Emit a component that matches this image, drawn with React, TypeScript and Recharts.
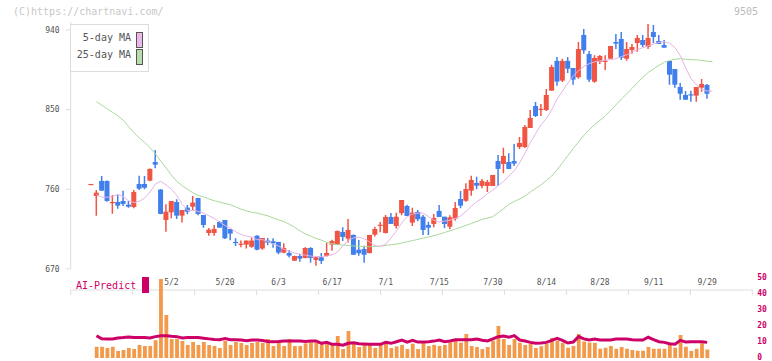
import React from 'react';
import { ComposedChart, Bar, Line, XAxis, YAxis } from 'recharts';

// ---- data ----
const opens = [765, 752.4, 769.4, 769.4, 745, 745.6, 746.8, 742.6, 740, 766,
  766, 769.7, 790.8, 759.6, 725.3, 734, 745.6, 730.2, 739.2, 740.3,
  750.2, 730.9, 710.6, 710.6, 723, 725.3, 715.1, 700.5, 698, 697.5,
  695, 707.5, 693, 702, 701.3, 700.5, 688.4, 688, 679.3, 684.6,
  682.4, 693.7, 680.1, 683.1, 684.6, 697.5, 697.5, 711.8, 704.2, 708.4,
  691.7, 692.5, 688, 708.7, 719.2, 710.6, 728.7, 718.5, 733, 741.1,
  722.3, 734.4, 729, 719.7, 720.8, 735.5, 729, 717.7, 726.8, 749,
  747, 758.4, 767.1, 763.7, 763.7, 763.7, 792, 788.6, 790.8, 792,
  807.8, 807.8, 829.3, 854.1, 850, 849.6, 871.4, 905.1, 882.8, 905.1,
  897.1, 886.6, 934.4, 912.9, 881.6, 904.2, 904.5, 907.6, 926.4, 929.8,
  907.6, 917.4, 925.3, 928.7, 920.8, 937.7, 927.6, 923.1, 905, 895.9,
  875.6, 866.6, 867.3, 865.8, 874.8, 877.9];

const highs = [766, 759.2, 775, 770, 753.6, 753.6, 758.2, 746.8, 759.2, 775.4,
  775, 783.5, 804.4, 760.3, 743, 746.8, 748.7, 736.6, 742.3, 752.4,
  750.2, 730.9, 716.3, 719.7, 724.2, 725.3, 715.1, 704.6, 702, 702,
  705.5, 708, 705, 705, 704.6, 700.5, 699, 691.4, 685, 687,
  694.5, 694.5, 684, 688, 699.3, 703, 713.5, 717, 726.4, 709,
  702.7, 696.3, 708.4, 717.7, 723, 731, 733.2, 733.6, 748, 742.6,
  739.2, 736.6, 731, 723.4, 732.1, 742.3, 729, 730.6, 745.6, 758.1,
  766.8, 775.4, 774.2, 771.6, 770.5, 776.2, 798.8, 807, 800.7, 811.2,
  819.1, 832.7, 849.6, 858.6, 856.4, 873.3, 900.8, 909.5, 907.6, 909.5,
  897.1, 926.4, 941.1, 916.3, 911.4, 911.8, 911.4, 921.9, 935.5, 937.7,
  926.4, 924.2, 934.4, 934.4, 946.8, 945.6, 934.4, 928.7, 905, 895.9,
  880.1, 871.1, 871.4, 875.6, 884.6, 879];

const lows = [765, 730.2, 758.4, 746, 732.4, 738.1, 741, 739.2, 738.5, 759.2,
  760, 769.2, 783.7, 731.8, 712, 727.2, 726.4, 722.3, 731.8, 736.6,
  730.6, 716.6, 707.6, 707.6, 716.6, 703.9, 702.4, 696, 694.5, 693,
  694, 691, 691.7, 696.7, 694, 686.6, 687.7, 683, 679, 678.2,
  682, 677, 673.7, 675.6, 684, 690.6, 697, 701.6, 699.7, 685.8,
  685, 677, 687.5, 706.5, 711.4, 710, 720.8, 715.6, 730.6, 729.8,
  718.5, 723.8, 708.4, 708.4, 717, 728.7, 716.3, 714.8, 724.5, 738.5,
  746, 752.8, 760, 761.1, 757, 763.7, 764.1, 778, 783, 786.3,
  805.5, 806.6, 829.3, 841.7, 842.8, 848.5, 871.4, 877, 881.2, 891.4,
  878.2, 885, 913.2, 881.2, 880.5, 901.6, 894.8, 907.6, 918.5, 906.1,
  905.3, 913.2, 915.5, 920.8, 918.5, 925.3, 924.2, 920, 878.2, 874.8,
  861.2, 861.2, 859, 859, 870.3, 862.4];

const closes = [766, 756.2, 758.4, 746.8, 745.6, 741.5, 743.4, 740.3, 757, 760.7,
  761.8, 783, 787.8, 732.1, 734.7, 746.8, 730.2, 736.6, 734.7, 744.9,
  732.1, 719.6, 714.3, 715.1, 716.6, 704.6, 709.9, 700, 698.5, 702,
  702, 691.7, 705, 699.7, 699, 688.4, 693.7, 685, 684.6, 681.6,
  693.7, 682.4, 683.1, 679, 688, 701.6, 712.9, 706.1, 714, 686,
  687.7, 686, 708.4, 715.1, 719.9, 728.7, 720.8, 729, 747.9, 729.8,
  733.6, 726.1, 714, 716.6, 727.6, 728.7, 720.8, 728.3, 738.9, 741.5,
  760.3, 770.5, 764.1, 769.4, 768.2, 776.2, 783, 797.6, 783, 789,
  812.3, 830.4, 840.6, 842.8, 851, 866.6, 898.2, 881.7, 905.1, 896.3,
  883.9, 918.5, 917, 883.9, 908.4, 910.6, 905.3, 921.9, 924.5, 908.7,
  918.5, 920.8, 931, 923.1, 931, 932.1, 924.2, 920, 889.5, 878.2,
  868, 861.2, 866.5, 875.6, 879, 868];

const volumes = [null, 7.1, 7.1, 6.3, 7.1, 4.4, 5.0, 6.3, 5.6, 8.2,
  7.5, 7.5, 11.1, 49.6, 27, 11.9, 11.9, 10.7, 8.2, 10,
  8.2, 10, 8.2, 7.5, 6.3, 10.7, 8.2, 10, 9.4, 8.2,
  9.4, 10, 9.4, 11.9, 7.5, 9.4, 7.5, 11.9, 7.5, 7.5,
  9.2, 9.8, 9.8, 8.2, 9.0, 8.6, 13.8, 5.6, 16.9, 9.0,
  6.9, 8.2, 9.0, 6.3, 8.2, 9.0, 6.3, 7.3, 8.2, 5.6,
  9.0, 5.6, 9.6, 7.5, 8.2, 7.5, 8.2, 9.8, 10.7, 9.6,
  15.1, 7.5, 6.9, 5.6, 6.9, 10.9, 20.1, 11.9, 8.2, 11.9,
  9.6, 8.2, 9.0, 6.3, 7.3, 9.0, 12.5, 10.9, 9.6, 6.5,
  7.5, 15.1, 10.3, 9.8, 9.6, 5.8, 6.5, 7.5, 5.8, 6.9,
  5.8, 5.0, 4.6, 4.6, 6.9, 5.8, 5.8, 5.8, 8.2, 6.5,
  14.5, 7.1, 4.4, 5.8, 9.2, 5.4];

const aiPredict = [null, 14.0, 12.0, 11.9, 11.9, 12.6, 12.8, 13.2, 12.8, 12.8,
  12.8, 12.6, 13.4, 14.0, 14.0, 13.6, 13.4, 12.6, 12.8, 12.8,
  12.8, 12.4, 12.0, 11.6, 11.4, 12.2, 11.4, 11.4, 11.3, 10.8,
  11.3, 11.3, 11.0, 10.4, 10.2, 10.4, 10.7, 10.7, 10.7, 10.7,
  10.3, 10.7, 10.7, 9.2, 9.8, 8.6, 8.6, 8.0, 9.2, 9.6,
  9.0, 8.8, 8.6, 8.6, 8.6, 9.8, 9.2, 10.2, 11.3, 10.0,
  11.1, 10.0, 10.0, 10.2, 10.6, 11.3, 10.2, 10.7, 11.5, 11.5,
  11.5, 11.5, 11.9, 11.1, 10.7, 12.0, 13.4, 13.8, 13.0, 14.0,
  11.3, 10.7, 9.8, 9.2, 9.4, 9.8, 11.1, 12.3, 11.1, 9.4,
  10.0, 13.4, 12.0, 11.3, 11.9, 11.3, 11.3, 11.3, 11.9, 11.9,
  11.9, 11.5, 11.3, 11.3, 13.0, 11.5, 10.2, 9.8, 9.0, 8.6,
  11.1, 10.0, 10.2, 10.2, 10.2, 9.8];

// moving averages as drawn (plotted one slot to the right of the candle)
const ma5 = [null, 754, 751, 751, 751.5, 754.5, 751.5, 747, 745, 746.5,
  750, 757, 766, 769, 765, 760, 753, 743, 736, 736,
  735, 733, 730, 727, 723, 719, 716, 712, 709, 707,
  706, 703, 703, 701, 698, 696, 692, 690, 688, 686.5,
  685.5, 684.5, 684, 684, 684.5, 686, 689, 696, 702, 705,
  706, 704, 700.5, 696, 695.5, 698, 705, 713, 722, 729,
  732, 733, 733, 729, 725, 723, 724, 725, 727, 730,
  735, 741, 746, 750, 755, 759, 764, 769, 775, 781,
  790, 801, 813, 823, 833, 840, 850, 862, 871, 880,
  888, 894, 899, 902, 904, 905, 906, 906.5, 907.5, 910,
  912, 915, 918, 920, 922, 924, 926, 926.5, 925, 920,
  911, 897, 885, 878, 873, 871, 871];

const ma25 = [null, 859, 855, 851, 847, 843, 838, 831, 824, 818,
  813, 807, 800, 792, 784, 776, 769, 764, 760, 756,
  753, 751.5, 749, 747, 745.5, 744, 742.5, 740, 737.5, 735.5,
  734, 733, 731.5, 730, 727.5, 725.5, 723.5, 720.5, 717, 713,
  709.5, 707, 704.5, 702.5, 700, 698.5, 697.5, 697, 696.5, 696,
  695.5, 695.3, 695.1, 695.2, 695.8, 696.5, 697.3, 698, 699.3, 700.7,
  702, 703.3, 704.8, 706.2, 707.5, 709.3, 711.2, 713, 715, 717,
  719.2, 721.4, 723.6, 726, 727.5, 729, 733.5, 738, 743, 746.3,
  749, 752.5, 757, 761, 765, 770, 775, 782, 790, 798,
  806, 813.5, 821, 827.5, 833, 838, 843, 849, 855.5, 862,
  868, 874, 880.5, 886.5, 892, 896, 900, 903.5, 905.5, 907,
  907.5, 907, 906.5, 906.3, 905.5, 904.8, 904];

const dateTicks = [15, 25, 35, 45, 55, 65, 75, 85, 95, 105, 115];
const dateLabels = ['5/2', '5/20', '6/3', '6/17', '7/1', '7/15', '7/30', '8/14', '8/28', '9/11', '9/29'];
const priceTicks = [670, 760, 850, 940];
const volumeTicks = [0, 10, 20, 30, 40, 50];

// ---- layout / style ----
const X_MIN = -3.81;
const X_MAX = 123.43;
const gridTicks = Array.from({ length: 12 }, (_, k) => X_MIN + (k * (X_MAX - X_MIN)) / 11);
const RED = '#f05442';
const BLUE = '#4180ec';
const MONO = 'DejaVu Sans Mono, monospace';
const MAGENTA = '#cc0066';

const rows = ma5.map((_, i) => ({
  i,
  o: i < opens.length ? opens[i] : null,
  h: i < highs.length ? highs[i] : null,
  l: i < lows.length ? lows[i] : null,
  c: i < closes.length ? closes[i] : null,
  range: i < opens.length ? [lows[i], highs[i]] : null,
  vol: i < volumes.length ? volumes[i] : null,
  ai: i < aiPredict.length ? aiPredict[i] : null,
  ma5: ma5[i],
  ma25: ma25[i],
}));

const Candle = (props: any) => {
  const { x, y, width, height, payload } = props;
  if (!payload || payload.o == null || x == null || y == null) return null;
  const { o, h, l, c } = payload;
  const top = Math.min(y, y + height);
  const bottom = Math.max(y, y + height);
  const ratio = h === l ? 0 : (bottom - top) / (h - l);
  const cx = x + width / 2;
  const yO = top + (h - o) * ratio;
  const yC = top + (h - c) * ratio;
  const color = c >= o ? RED : BLUE;
  const bTop = Math.min(yO, yC);
  const bH = Math.max(Math.abs(yO - yC), 1.2);
  return (
    <g>
      <line x1={cx} x2={cx} y1={top} y2={bottom} stroke={color} strokeWidth={1.5} />
      <rect x={cx - 2.5} y={bTop} width={5} height={bH} fill={color} />
    </g>
  );
};

const dateFmt = (v: number) => {
  const k = dateTicks.indexOf(Math.round(v));
  return k >= 0 ? dateLabels[k] : '';
};

export default function App() {
  return (
    <div style={{ position: 'absolute', left: 0, top: 0, width: 772, height: 361, background: '#fff', fontFamily: MONO, overflow: 'hidden' }}>
      <div style={{ position: 'absolute', left: 0, top: 0 }}>
        <ComposedChart width={772} height={295} data={rows} margin={{ top: 22.04, right: 19.7, bottom: 0, left: 0 }}>
          <XAxis
            xAxisId="grid"
            dataKey="i"
            type="number"
            domain={[X_MIN, X_MAX]}
            allowDataOverflow
            ticks={gridTicks}
            interval={0}
            height={5}
            stroke="#dddddd"
            tickSize={5}
            tickFormatter={() => ''}
          />
          <XAxis
            xAxisId="dates"
            dataKey="i"
            type="number"
            domain={[X_MIN, X_MAX]}
            allowDataOverflow
            ticks={dateTicks}
            interval={0}
            height={21.1}
            axisLine={false}
            tickLine={false}
            tickSize={0}
            tickMargin={10}
            tickFormatter={dateFmt}
            tick={{ fill: '#555', fontSize: 8, fontFamily: MONO }}
          />
          <YAxis
            yAxisId="p"
            domain={[670, 949]}
            allowDataOverflow
            ticks={priceTicks}
            interval={0}
            width={70.7}
            stroke="#dddddd"
            tickSize={5}
            tickMargin={6}
            tick={{ fill: '#555', fontSize: 8, fontFamily: MONO }}
          />
          <Line xAxisId="grid" yAxisId="p" dataKey="ma25" stroke="#a9d89a" strokeWidth={1} dot={false} isAnimationActive={false} type="linear" />
          <Line xAxisId="grid" yAxisId="p" dataKey="ma5" stroke="#e6b3e6" strokeWidth={1} dot={false} isAnimationActive={false} type="linear" />
          <Bar xAxisId="grid" yAxisId="p" dataKey="range" barSize={5} shape={Candle} isAnimationActive={false} />
        </ComposedChart>
      </div>

      <div style={{ position: 'absolute', left: 0, top: 0 }}>
        <ComposedChart width={772} height={361} data={rows} margin={{ top: 278.3, right: 0, bottom: 3, left: 70.7 }}>
          <XAxis dataKey="i" type="number" domain={[X_MIN, X_MAX]} allowDataOverflow hide />
          <YAxis
            orientation="right"
            domain={[0, 50]}
            ticks={volumeTicks}
            interval={0}
            width={19.7}
            axisLine={false}
            tickLine={false}
            tickSize={3}
            tickMargin={2}
            tick={{ fill: MAGENTA, fontSize: 8, fontFamily: MONO, fontWeight: 'bold', dy: -1 }}
          />
          <Bar dataKey="vol" fill="#f2994a" barSize={3.8} isAnimationActive={false} />
          <Line dataKey="ai" stroke={MAGENTA} strokeWidth={3} dot={false} isAnimationActive={false} type="linear" />
        </ComposedChart>
      </div>

      <div style={{ position: 'absolute', left: 13, top: 5, fontSize: 10, color: '#c8c8c8', fontFamily: MONO, lineHeight: '14px', whiteSpace: 'nowrap' }}>
        (C)https://chartnavi.com/
      </div>
      <div style={{ position: 'absolute', left: 734, top: 5, fontSize: 10, color: '#bbbbbb', fontFamily: MONO, lineHeight: '14px' }}>
        9505
      </div>

      <div style={{ position: 'absolute', left: 70, top: 24, width: 77, height: 46, border: '1px solid #dddddd', background: '#fff' }}>
        <div style={{ position: 'absolute', right: 17, top: 7, fontSize: 10, color: '#555', fontFamily: MONO, lineHeight: '12px', whiteSpace: 'nowrap' }}>5-day MA</div>
        <div style={{ position: 'absolute', right: 17, top: 24, fontSize: 10, color: '#555', fontFamily: MONO, lineHeight: '12px', whiteSpace: 'nowrap' }}>25-day MA</div>
        <div style={{ position: 'absolute', left: 65, top: 7, width: 5, height: 13.5, background: '#ecb8ec', border: '1px solid #555' }} />
        <div style={{ position: 'absolute', left: 65, top: 24, width: 5, height: 13.5, background: '#b8dcaa', border: '1px solid #555' }} />
      </div>

      <div style={{ position: 'absolute', left: 76, top: 279, fontSize: 10, color: MAGENTA, fontFamily: MONO, lineHeight: '14px', whiteSpace: 'nowrap' }}>
        AI-Predict
      </div>
      <div style={{ position: 'absolute', left: 142, top: 277, width: 7, height: 16, background: MAGENTA }} />
    </div>
  );
}
